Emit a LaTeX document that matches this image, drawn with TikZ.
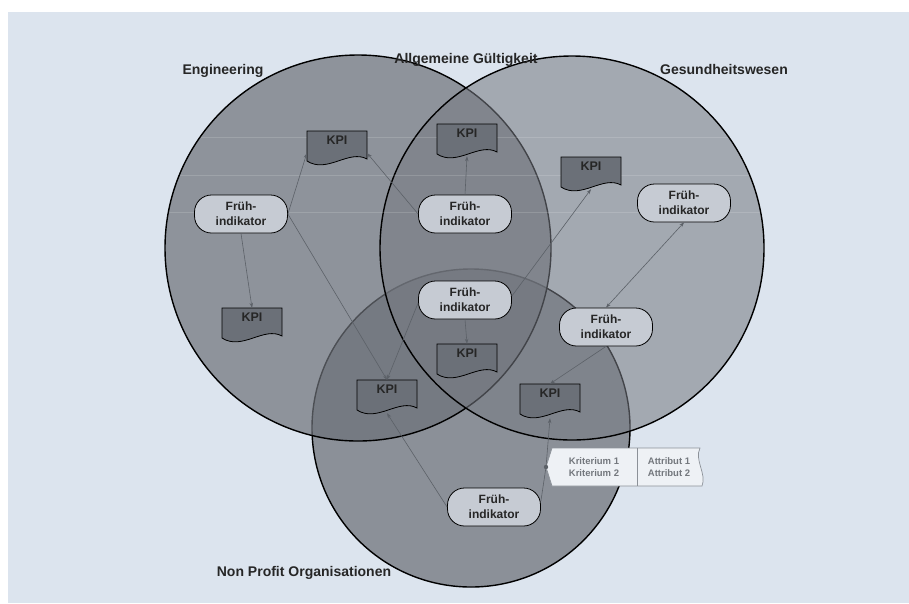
\documentclass[tikz,border=0pt]{standalone}
\usepackage{fontspec}
\setmainfont{Liberation Sans}
\usetikzlibrary{arrows.meta,calc}
\definecolor{bgblue}{RGB}{220,228,238}
\definecolor{npfill}{RGB}{139,144,152}
\definecolor{efill}{RGB}{109,113,121}
\definecolor{gfill}{RGB}{119,123,131}
\definecolor{fruehfill}{RGB}{198,203,211}
\definecolor{kpifill}{RGB}{107,112,120}
\definecolor{conncol}{RGB}{92,97,104}
\definecolor{tagfill}{RGB}{238,241,245}
\definecolor{tagline}{RGB}{140,145,152}
\definecolor{tagtext}{RGB}{115,119,125}
\newcommand\kpidoc[2]{%
  \begin{scope}[shift={(#2)}]
    \draw[kpishape] (-30,-15) -- (30,-15) -- (30,13) .. controls (12,3) and (-10,28) .. (-30,15) -- cycle;
  \end{scope}
  \node[kpi] (#1) at (#2) {KPI};
}
\begin{document}
\begin{tikzpicture}[x=1pt,y=-1pt,
  setcirc/.style={line width=1.4pt, draw=black},
  frueh/.style={draw=black, line width=0.8pt, fill=fruehfill, rounded corners=17pt, minimum width=93pt, minimum height=38pt, inner sep=0pt, align=center, font=\bfseries\fontsize{12}{15}\selectfont, text=black!85},
  kpi/.style={minimum width=60pt, minimum height=30pt, inner sep=0pt, text height=8.5pt, text depth=12pt, font=\bfseries\fontsize{12.5}{14}\selectfont, text=black!85},
  kpishape/.style={draw=black, line width=0.8pt, fill=kpifill},
  conn/.style={draw=conncol, line width=0.6pt, -{Stealth[length=5pt,width=3.5pt]}},
  setlabel/.style={font=\bfseries\fontsize{14}{16}\selectfont, text=black!85, inner sep=0pt},
  tagtxt/.style={font=\bfseries\fontsize{9.5}{12.5}\selectfont, text=tagtext, align=left, inner sep=0pt},
]
\useasboundingbox (0,0) rectangle (909,603);
\fill[white] (0,0) rectangle (909,603);
\fill[bgblue] (8,12) rectangle (909,603);

% sets
\path[setcirc, fill=npfill] (471,428) circle[radius=159pt];
\path[setcirc, fill=efill, fill opacity=0.7] (358,248) circle[radius=193pt];
\path[setcirc, fill=gfill, fill opacity=0.56] (572,248) circle[radius=192pt];

\begin{scope}
  \clip (358,248) circle[radius=192pt] (572,248) circle[radius=191pt];
  \foreach \yy in {137,175,212} \draw[white, opacity=0.15, line width=1pt] (150,\yy) -- (780,\yy);
\end{scope}

% set labels
\node[setlabel] (lEng) at (223,71) {Engineering};
\node[setlabel] (lAll) at (466,60) {Allgemeine Gültigkeit};
\node[setlabel] (lGes) at (724,69) {Gesundheitswesen};
\node[setlabel] (lNP) at (304,573) {Non Profit Organisationen};

% Frühindikatoren
\node[frueh] (f1) at (241,214) {Früh-\\indikator};
\node[frueh] (f2) at (465,214) {Früh-\\indikator};
\node[frueh] (f3) at (684,203) {Früh-\\indikator};
\node[frueh] (f4) at (465,300) {Früh-\\indikator};
\node[frueh] (f5) at (606,327) {Früh-\\indikator};
\node[frueh] (f6) at (494,507) {Früh-\\indikator};

% KPIs
\kpidoc{k1}{337,146}
\kpidoc{k2}{467,139}
\kpidoc{k3}{591,172}
\kpidoc{k4}{252,323}
\kpidoc{k5}{467,359}
\kpidoc{k6}{387,395}
\kpidoc{k7}{550,399}

% tag
\coordinate (tagw) at (546,467);
\draw[draw=tagline, fill=tagfill, line width=0.7pt] (tagw) -- (552,448) -- (700,448) .. controls (694,460) and (707,474) .. (702,486) -- (552,486) -- cycle;
\draw[tagline, line width=1pt] (637,448) -- (637,486);
\node[tagtxt] (krit) at (594,467) {Kriterium 1\\Kriterium 2};
\node[tagtxt] (attr) at (669,467) {Attribut 1\\Attribut 2};

% connectors
\draw[conn] (f1.east) -- ([yshift=8pt]k1.south west);
\draw[conn] (f1.east) -- (k6.north);
\draw[conn] (f1.south) -- (k4.north);
\draw[conn] (f2.west) -- ([yshift=8pt]k1.south east);
\draw[conn] (f2.north) -- ([yshift=-2pt]k2.south);
\draw[conn] ([yshift=-3pt]f4.west) -- (k6.north);
\draw[conn] (f4.south) -- (k5.north);
\draw[conn] ([yshift=4pt]f4.east) -- ([yshift=-2pt]k3.south);
\draw[conn, {Stealth[length=5pt,width=3.5pt]}-{Stealth[length=5pt,width=3.5pt]}] (f3.south) -- (f5.north);
\draw[conn] (f5.south) -- (k7.north);
\draw[conn] ([yshift=6pt]f6.east) -- (tagw) -- ([yshift=-4pt]k7.south);
\draw[conn] (f6.west) -- ([yshift=-3pt]k6.south);
\fill[conncol] (tagw) circle[radius=2.2pt];
\end{tikzpicture}
\end{document}
